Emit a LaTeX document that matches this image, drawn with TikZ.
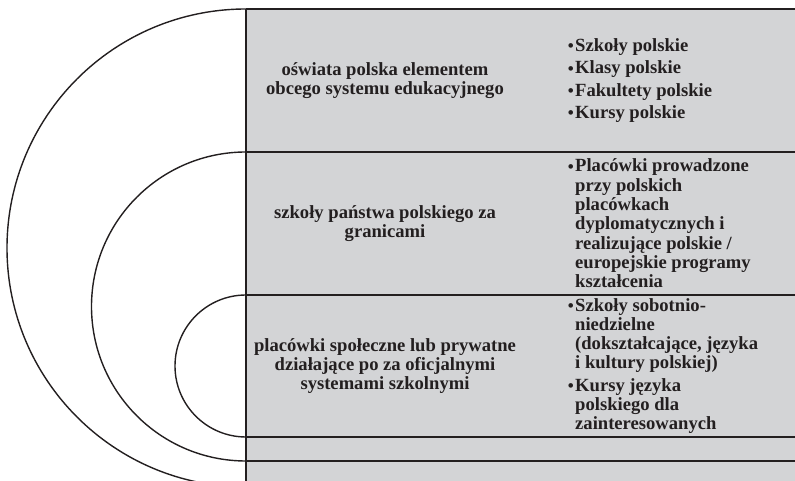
\documentclass[tikz,border=0pt]{standalone}
\usepackage{fontspec}
\setmainfont{Liberation Serif}
\definecolor{boxgray}{RGB}{211,212,214}
\definecolor{ink}{RGB}{35,31,32}
\begin{document}
\begin{tikzpicture}[x=1pt,y=1pt,
  rule/.style={draw=ink,line width=1.4pt},
  lefttext/.style={align=center,inner sep=0pt,text=ink,font=\fontsize{18.6}{19.3}\selectfont\bfseries},
  listtext/.style={align=left,inner sep=0pt,anchor=west,text=ink,font=\fontsize{18.6}{19.3}\selectfont\bfseries}]
\useasboundingbox (0,0) rectangle (795,481);
\clip (0,0) rectangle (795,481);
\newcommand{\bul}{\llap{\raisebox{-0.3pt}{\fontsize{17}{17}\selectfont•}\hspace{1.5pt}}}
% coordinates
\coordinate (t0) at (246,472);
\coordinate (t1) at (246,329);
\coordinate (t2) at (246,186);
\coordinate (b2) at (246,44);
\coordinate (b1) at (246,20);
\coordinate (bot) at (246,0);
% gray band
\fill[boxgray] (246,0) rectangle (795,472);
% horizontal rules
\draw[rule] (t0) -- (795,472);
\draw[rule] (t1) -- (795,329);
\draw[rule] (t2) -- (795,186);
\draw[rule] (b2) -- (795,44);
\draw[rule] (b1) -- (795,20);
\draw[rule] (t0) -- (bot);
% arcs
\draw[rule] (t0) arc[start angle=90,end angle=270,radius=239];
\draw[rule] (t1) arc[start angle=90,end angle=270,radius=154.5];
\draw[rule] (t2) arc[start angle=90,end angle=270,radius=71];
% left texts
\node[lefttext] (l1) at (385,400.5) {oświata polska elementem\\obcego systemu edukacyjnego};
\node[lefttext] (l2) at (385,257.5) {szkoły państwa polskiego za\\granicami};
\node[lefttext] (l3) at (385,115) {placówki społeczne lub prywatne\\działające po za oficjalnymi\\systemami szkolnymi};
% right lists
\node[listtext] (r1) at (575,400.5) {\bul Szkoły polskie\\[3pt]\bul Klasy polskie\\[3pt]\bul Fakultety polskie\\[3pt]\bul Kursy polskie};
\node[listtext] (r2) at (575,257.5) {\bul Placówki prowadzone\\przy polskich\\placówkach\\dyplomatycznych i\\realizujące polskie /\\europejskie programy\\kształcenia};
\node[listtext] (r3) at (575,115) {\bul Szkoły sobotnio-\\niedzielne\\(dokształcające, języka\\i kultury polskiej)\\[3pt]\bul Kursy języka\\polskiego dla\\zainteresowanych};
\end{tikzpicture}
\end{document}
